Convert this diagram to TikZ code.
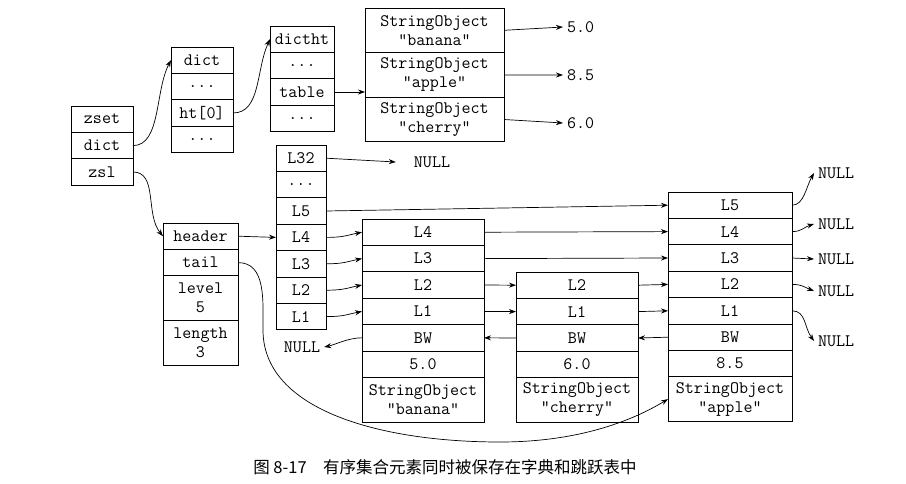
\documentclass[tikz,border=0pt]{standalone}
\usepackage{fontspec}
\newfontfamily\cjkfont{Noto Sans CJK SC}
\usepackage{tikz}
\usetikzlibrary{arrows.meta}
\usetikzlibrary{positioning}

\begin{document}
\begin{tikzpicture}[x=1pt,y=1pt,>={Stealth[length=7pt,width=5pt]},
		cell/.style={draw,line width=0.9pt,outer sep=0pt,inner sep=0pt,minimum height=26.4pt,align=center,font=\ttfamily\fontsize{17.5}{19}\selectfont},
		tall/.style={cell,minimum height=44.6pt},
		link/.style={->,line width=0.7pt},
		val/.style={inner sep=4pt,font=\ttfamily\fontsize{17.5}{19}\selectfont}]
	
	\useasboundingbox (0,0) rectangle (906,-483);
	
	% zset
	\begin{scope}[every node/.append style={minimum width=62pt}]
		\node[cell,anchor=north west] (zset) at (71,-106) {zset};
		\node[cell,below=0pt of zset] (zdict) {dict};
		\node[cell,below=0pt of zdict] (zzsl) {zsl};
	\end{scope}
	
	% dict
	\begin{scope}[every node/.append style={minimum width=62pt}]
		\node[cell,anchor=north west] (dict) at (171,-47) {dict};
		\node[cell,below=0pt of dict] (ddots1) {...};
		\node[cell,below=0pt of ddots1] (dht) {ht[0]};
		\node[cell,below=0pt of dht] (ddots2) {...};
	\end{scope}
	
	% dictht
	\begin{scope}[every node/.append style={minimum width=64pt}]
		\node[cell,anchor=north west] (dictht) at (270,-26) {dictht};
		\node[cell,below=0pt of dictht] (tdots1) {...};
		\node[cell,below=0pt of tdots1] (table) {table};
		\node[cell,below=0pt of table] (tdots2) {...};
	\end{scope}
	
	% table entries
	\begin{scope}[every node/.append style={minimum width=139pt}]
		\node[tall,anchor=north west] (sob) at (365,-8) {StringObject\\"banana"};
		\node[tall,below=0pt of sob] (soa) {StringObject\\"apple"};
		\node[tall,below=0pt of soa] (soc) {StringObject\\"cherry"};
	\end{scope}
	\node[val,anchor=west] (v50) at (563,-27) {5.0};
	\node[val,anchor=west] (v85) at (563,-75) {8.5};
	\node[val,anchor=west] (v60) at (563,-123) {6.0};
	
	% header
	\begin{scope}[every node/.append style={minimum width=50pt}]
		\node[cell,anchor=north west] (hl32) at (276,-145) {L32};
		\node[cell,below=0pt of hl32] (hdots) {...};
		\node[cell,below=0pt of hdots] (hl5) {L5};
		\node[cell,below=0pt of hl5] (hl4) {L4};
		\node[cell,below=0pt of hl4] (hl3) {L3};
		\node[cell,below=0pt of hl3] (hl2) {L2};
		\node[cell,below=0pt of hl2] (hl1) {L1};
	\end{scope}
	
	% zskiplist
	\begin{scope}[every node/.append style={minimum width=75pt}]
		\node[cell,anchor=north west] (header) at (163,-223) {header};
		\node[cell,below=0pt of header] (tail) {tail};
		\node[tall,below=0pt of tail] (level) {level\\5};
		\node[tall,below=0pt of level] (length) {length\\3};
	\end{scope}
	
	% banana
	\begin{scope}[every node/.append style={minimum width=122pt}]
		\node[cell,anchor=north west] (bl4) at (362,-219) {L4};
		\node[cell,below=0pt of bl4] (bl3) {L3};
		\node[cell,below=0pt of bl3] (bl2) {L2};
		\node[cell,below=0pt of bl2] (bl1) {L1};
		\node[cell,below=0pt of bl1] (bbw) {BW};
		\node[cell,below=0pt of bbw] (bscore) {5.0};
		\node[tall,below=0pt of bscore] (bobj) {StringObject\\"banana"};
	\end{scope}
	
	% cherry
	\begin{scope}[every node/.append style={minimum width=122pt}]
		\node[cell,anchor=north west] (cl2) at (516,-272) {L2};
		\node[cell,below=0pt of cl2] (cl1) {L1};
		\node[cell,below=0pt of cl1] (cbw) {BW};
		\node[cell,below=0pt of cbw] (cscore) {6.0};
		\node[tall,below=0pt of cscore] (cobj) {StringObject\\"cherry"};
	\end{scope}
	
	% apple
	\begin{scope}[every node/.append style={minimum width=124pt}]
		\node[cell,anchor=north west] (al5) at (668,-192) {L5};
		\node[cell,below=0pt of al5] (al4) {L4};
		\node[cell,below=0pt of al4] (al3) {L3};
		\node[cell,below=0pt of al3] (al2) {L2};
		\node[cell,below=0pt of al2] (al1) {L1};
		\node[cell,below=0pt of al1] (abw) {BW};
		\node[cell,below=0pt of abw] (ascore) {8.5};
		\node[tall,below=0pt of ascore] (aobj) {StringObject\\"apple"};
	\end{scope}
	
	% NULL
	\node[val] (nl32) at (432,-162) {NULL};
	\node[val] (nlb) at (302,-347) {NULL};
	\node[val,anchor=west] (nr5) at (814,-173) {NULL};
	\node[val,anchor=west] (nr4) at (814,-224) {NULL};
	\node[val,anchor=west] (nr3) at (814,-259) {NULL};
	\node[val,anchor=west] (nr2) at (814,-291) {NULL};
	\node[val,anchor=west] (nr1) at (814,-341) {NULL};
	
	% pointers
	\draw[link] (zdict.east) .. controls +(28,0) and +(-16,-30) .. (dict.west);
	\draw[link] (dht.east) .. controls +(28,0) and +(-14,-30) .. (dictht.west);
	\draw[link] (table.east) -- (table.east -| soa.west);
	\draw[link] (sob.east) -- (v50.west);
	\draw[link] (soa.east) -- (v85.west);
	\draw[link] (soc.east) -- (v60.west);
	
	\draw[link] (zzsl.east) .. controls +(25,0) and +(-18,22) .. (header.west);
	\draw[link] (header.east) -- (hl4.west);
	\draw[link] (hl32.east) -- ([xshift=-14pt]nl32.west);
	\draw[link] (hl5.east) -- (al5.west);
	\draw[link] (hl4.east) .. controls +(18,0) and +(-15,-3) .. (bl4.west);
	\draw[link] (hl3.east) .. controls +(18,0) and +(-15,-3) .. (bl3.west);
	\draw[link] (hl2.east) .. controls +(18,0) and +(-15,-3) .. (bl2.west);
	\draw[link] (hl1.east) .. controls +(18,0) and +(-15,-3) .. (bl1.west);
	
	\draw[link] (bl4.east) -- (al4.west);
	\draw[link] (bl3.east) -- (al3.west);
	\draw[link] (bl2.east) -- (cl2.west);
	\draw[link] (bl1.east) -- (cl1.west);
	\draw[link] (cl2.east) -- (al2.west);
	\draw[link] (cl1.east) -- (al1.west);
	\draw[link] (abw.west) -- (cbw.east);
	\draw[link] (cbw.west) -- (bbw.east);
	\draw[link] (bbw.west) .. controls +(-14,0) and +(10,2) .. (nlb.east);
	
	\draw[link] (al5.east) .. controls +(12,0) and +(-8,-14) .. (nr5.west);
	\draw[link] (al4.east) .. controls +(10,0) and +(-10,-3) .. (nr4.west);
	\draw[link] (al3.east) -- (nr3.west);
	\draw[link] (al2.east) .. controls +(10,0) and +(-10,4) .. (nr2.west);
	\draw[link] (al1.east) .. controls +(14,0) and +(-10,14) .. (nr1.west);
	
	\draw[link] (tail.east) .. controls +(28,0) and +(0,30) .. (263,-330)
		.. controls +(0,-80) and +(-120,0) .. (500,-442)
		.. controls +(90,0) and +(-25,-15) .. (aobj.west);
	
	\node[font=\cjkfont\fontsize{16.5}{18}\selectfont] (caption) at (445,-467) {图 8-17\quad 有序集合元素同时被保存在字典和跳跃表中};
	
\end{tikzpicture}
\end{document}
